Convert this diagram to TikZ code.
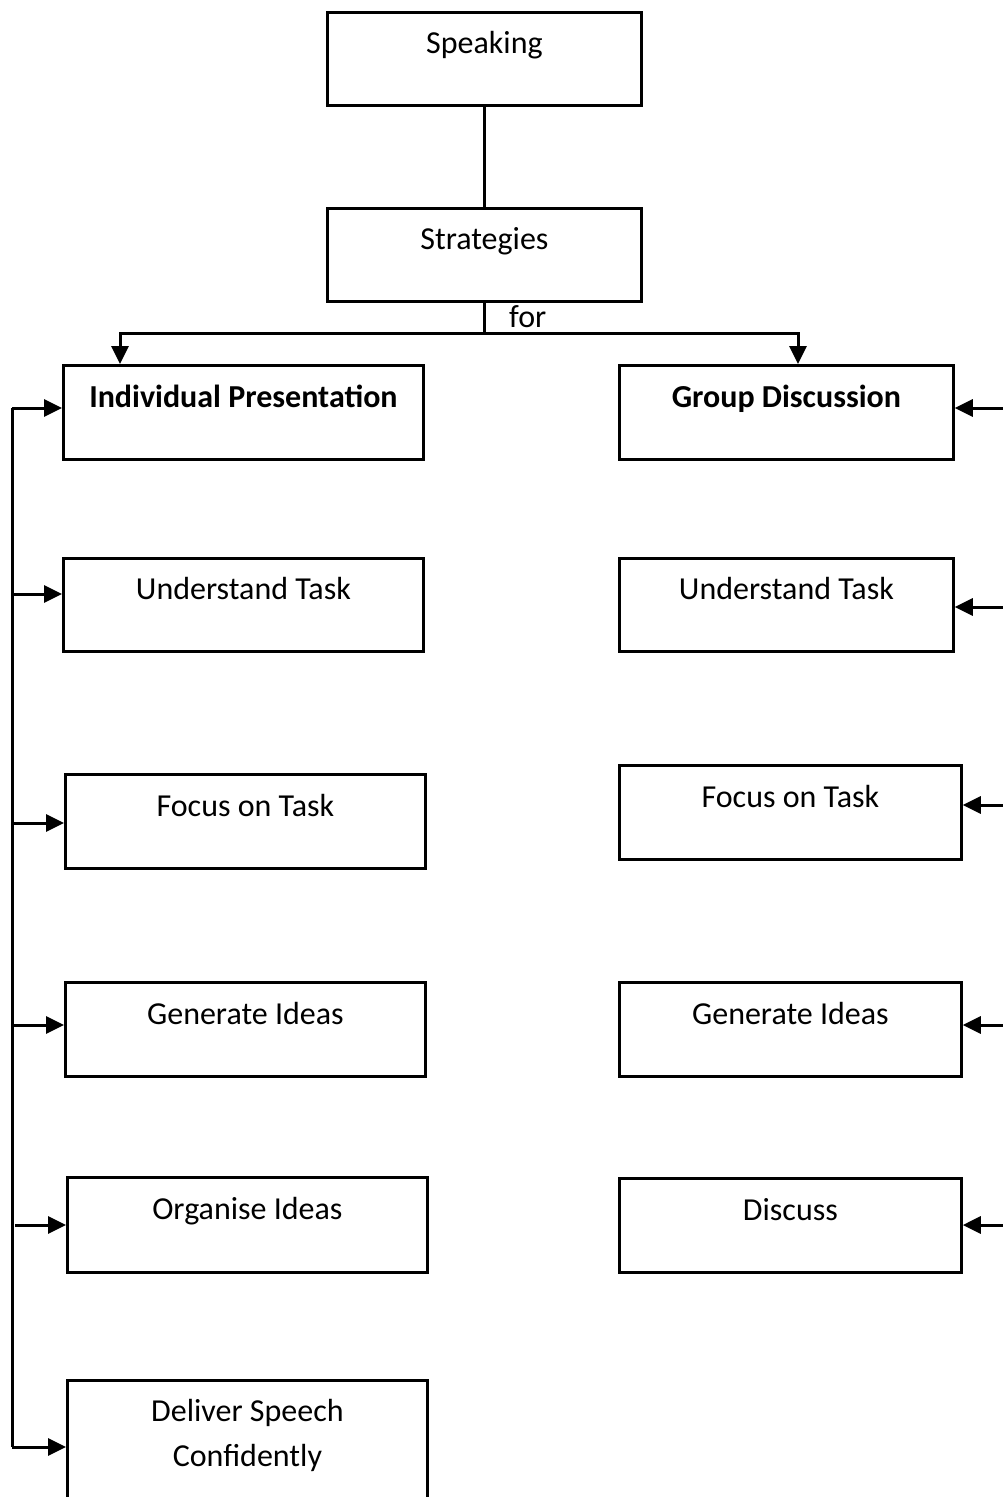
\documentclass[tikz,border=0pt]{standalone}
\usepackage{fontspec}
\setmainfont{Carlito}
\usetikzlibrary{arrows.meta}
\tikzset{
  stepbox/.style={draw, line width=2.8pt, rectangle, anchor=north west, inner sep=0pt,
    font=\fontsize{32}{45}\selectfont, text height=22pt, text depth=32pt},
  boldbox/.style={stepbox, font=\fontsize{32}{45}\selectfont\bfseries},
  wire/.style={draw, line width=3pt},
  wirearrow/.style={draw, line width=3pt, -{Triangle[length=18pt,width=17pt]}}
}
\begin{document}
\begin{tikzpicture}

% page frame (drawing unit: 1pt, y grows downwards)
\begin{scope}[x=1pt,y=-1pt]
\useasboundingbox (0,0) rectangle (1003,1497);
\fill[white] (0,0) rectangle (1003,1497);
\clip (0,0) rectangle (1003,1497);

% top of the hierarchy
\node[stepbox, minimum width=314pt, minimum height=93pt] (speak) at (326,11) {Speaking};
\node[stepbox, minimum width=314pt, minimum height=93pt] (strat) at (326,207) {Strategies};

% left column: individual presentation
\node[boldbox, minimum width=360pt, minimum height=94pt] (ip)  at (62,364)  {Individual Presentation};
\node[stepbox, minimum width=360pt, minimum height=93pt] (ut1) at (62,557)  {Understand Task};
\node[stepbox, minimum width=360pt, minimum height=94pt] (fo1) at (64,773)  {Focus on Task};
\node[stepbox, minimum width=360pt, minimum height=94pt] (gi1) at (64,981)  {Generate Ideas};
\node[stepbox, minimum width=360pt, minimum height=95pt] (or1) at (66,1176) {Organise Ideas};
\node[stepbox, minimum width=360pt, minimum height=150pt, text depth=90pt] (de1) at (66,1379)
  {\begin{tabular}[t]{@{}c@{}}Deliver Speech\\Confidently\end{tabular}};

% right column: group discussion
\node[boldbox, minimum width=334pt, minimum height=94pt] (gd)  at (618,364)  {Group Discussion};
\node[stepbox, minimum width=334pt, minimum height=93pt] (ut2) at (618,557)  {Understand Task};
\node[stepbox, minimum width=342pt, minimum height=94pt] (fo2) at (618,764)  {Focus on Task};
\node[stepbox, minimum width=342pt, minimum height=94pt] (gi2) at (618,981)  {Generate Ideas};
\node[stepbox, minimum width=342pt, minimum height=94pt] (di2) at (618,1177) {Discuss};

% Speaking -> Strategies
\path[wire] (speak.south -| 484,0) -- (strat.north -| 484,0);

% fork "for" into the two branches
\coordinate (fork) at (484,333);
\path[wire] (strat.south -| fork) -- (fork);
\path[wirearrow] (fork) -| ([xshift=58pt]ip.north west);
\path[wirearrow] (fork) -| ([xshift=180pt]gd.north west);
\node[anchor=base west, inner sep=0pt, font=\fontsize{32}{45}\selectfont] (forlbl) at (509,327) {for};

% left rail feeding each step
\coordinate (railtop) at (12,408);
\coordinate (railbot) at (12,1447);
\path[wire] (railtop) -- (railbot);
\coordinate (l2) at (12,594);
\coordinate (l3) at (12,823);
\coordinate (l4) at (12,1025);
\coordinate (l5) at (15,1225);
\path[wirearrow] (railtop) -- (railtop -| ip.west);
\path[wirearrow] (l2) -- (l2 -| ut1.west);
\path[wirearrow] (l3) -- (l3 -| fo1.west);
\path[wirearrow] (l4) -- (l4 -| gi1.west);
\path[wirearrow] (l5) -- (l5 -| or1.west);
\path[wirearrow] (railbot) -- (railbot -| de1.west);

% incoming arrows on the right side
\coordinate (r1) at (1010,408);
\coordinate (r2) at (1010,607);
\coordinate (r3) at (1010,805);
\coordinate (r4) at (1010,1025);
\coordinate (r5) at (1010,1225);
\path[wirearrow] (r1) -- (r1 -| gd.east);
\path[wirearrow] (r2) -- (r2 -| ut2.east);
\path[wirearrow] (r3) -- (r3 -| fo2.east);
\path[wirearrow] (r4) -- (r4 -| gi2.east);
\path[wirearrow] (r5) -- (r5 -| di2.east);
\end{scope}
\end{tikzpicture}
\end{document}
